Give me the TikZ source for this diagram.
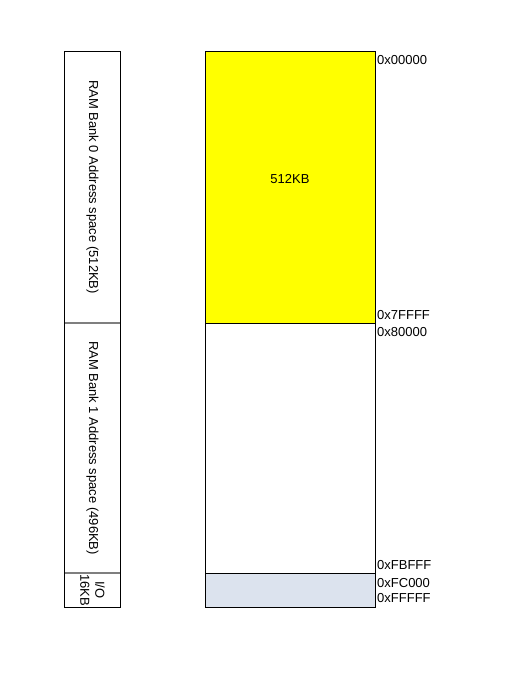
\documentclass[tikz,border=0pt]{standalone}
\usepackage{fontspec}
\setmainfont{Liberation Sans}
\definecolor{iofill}{HTML}{DCE3EE}
\definecolor{bankyellow}{RGB}{255,255,0}
\definecolor{divgray}{HTML}{7F7F7F}
\begin{document}
\begin{tikzpicture}[x=1pt,y=1pt,
  every node/.style={font=\fontsize{13}{15}\selectfont},
  cell/.style={draw=black, line width=0.8pt, inner sep=0pt, outer sep=0pt},
  leftcell/.style={cell, rotate=-90, minimum height=55.5pt, align=center},
  addr/.style={anchor=west, inner sep=1pt},
  divider/.style={draw=divgray, line width=1.6pt}
]
\useasboundingbox (0,0) rectangle (505,679);
% left column (rotated labels)
\node[leftcell, minimum width=272pt] (lb0) at (92.5,492) {RAM Bank 0 Address space (512KB)};
\node[leftcell, minimum width=250pt] (lb1) at (92.5,231) {RAM Bank 1 Address space (496KB)};
\node[leftcell, minimum width=34pt] (lio) at (92.5,89) {I/O\\16KB};
\draw[divider] (lb0.south east) -- (lb0.north east);
\draw[divider] (lb1.south east) -- (lb1.north east);
% right column (memory map)
\node[cell, fill=bankyellow, minimum width=170pt, minimum height=272pt] (r0) at (290,492) {};
\node (t0) at ([yshift=8pt]r0.center) {512KB};
\node[cell, fill=white, minimum width=170pt, minimum height=250pt] (r1) at (290,231) {};
\node[cell, fill=iofill, minimum width=170pt, minimum height=34pt] (rio) at (290,89) {};
% addresses
\node[addr] (a0) at (376,619) {0x00000};
\node[addr] (a1) at (376,363.5) {0x7FFFF};
\node[addr] (a2) at (376,346.5) {0x80000};
\node[addr] (a3) at (376,113.5) {0xFBFFF};
\node[addr] (a4) at (376,95.5) {0xFC000};
\node[addr] (a5) at (376,80.5) {0xFFFFF};
\end{tikzpicture}
\end{document}
